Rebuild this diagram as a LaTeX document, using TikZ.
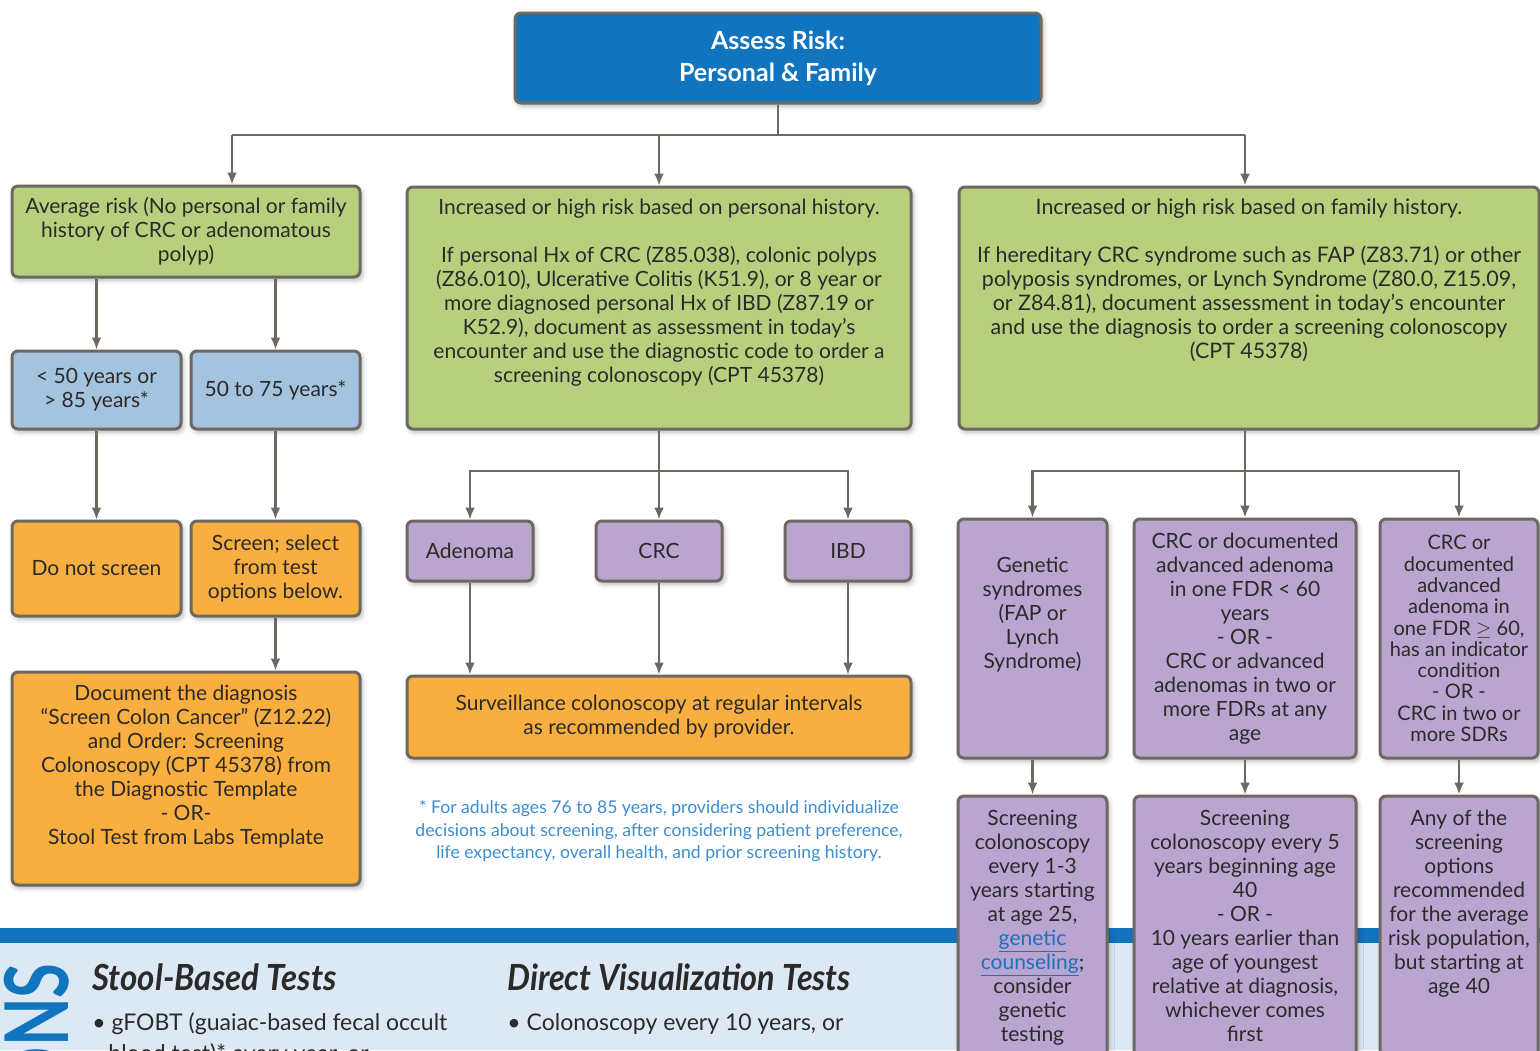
\documentclass[tikz,border=0pt]{standalone}
\usepackage{fontspec}
\setmainfont{Lato}
\usepackage{tikz}
\usetikzlibrary{arrows.meta,positioning,shadows.blur}

\definecolor{riskblue}{HTML}{1174BE}
\definecolor{riskgreen}{HTML}{B8D07E}
\definecolor{ageblue}{HTML}{A3C3DF}
\definecolor{actorange}{HTML}{F9AE40}
\definecolor{histpurple}{HTML}{B9A5CF}
\definecolor{linegray}{HTML}{6E6862}
\definecolor{txtgray}{HTML}{2B2A29}
\definecolor{noteblue}{HTML}{3D8DCF}
\definecolor{bandlight}{HTML}{DCE8F4}
\definecolor{linkblue}{HTML}{1F6FBF}

\newcommand{\flowfont}{\fontsize{10.5}{12}\selectfont}

\tikzset{
  box/.style={draw=linegray, line width=1.5pt, rounded corners=3pt, inner sep=0pt,
    align=center, text=txtgray, font=\flowfont,
    blur shadow={shadow xshift=1pt, shadow yshift=-1.5pt, shadow blur radius=2.5pt, shadow opacity=30}},
  greenbox/.style={box, fill=riskgreen},
  agebox/.style={box, fill=ageblue, minimum width=84.5pt, minimum height=39pt},
  actbox/.style={box, fill=actorange},
  histbox/.style={box, fill=histpurple},
  txt/.style={inner sep=0pt, align=center, text=txtgray, font=\flowfont},
  conn/.style={draw=linegray, line width=1.2pt},
  arr/.style={conn, -{Latex[length=6pt,width=5pt]}},
  bandtxt/.style={anchor=base west, inner sep=0pt, text=txtgray, font=\fontsize{11.5}{14}\selectfont},
  bandhead/.style={anchor=base west, inner sep=0pt, text=txtgray, font=\fontsize{18}{20}\selectfont\bfseries\itshape},
}

\begin{document}
\begin{tikzpicture}[x=0.5pt,y=-0.5pt]
\useasboundingbox (0,0) rectangle (1540,1050);
\clip (0,0) rectangle (1540,1050);

% options band at the bottom
\fill[bandlight] (0,942) rectangle (1540,1050);
\fill[riskblue] (0,928) rectangle (1540,943);
\node[rotate=90, anchor=base east, inner sep=0pt, text=riskblue,
  font=\fontsize{44}{44}\selectfont\bfseries] (optlabel) at (68,963) {\scalebox{0.72}[1]{OPTIONS}};
\node[bandhead] (stoolhead) at (92,990) {\scalebox{0.92}[1]{Stool-Based Tests}};
\node[bandhead] (visualhead) at (507,990) {\scalebox{0.9}[1]{Direct Visualization Tests}};
\node[bandtxt] (stoolopt) at (92,1030) {• gFOBT (guaiac-based fecal occult};
\node[bandtxt] (stoolopt2) at (108,1061) {blood test)* every year, or};
\node[bandtxt] (visualopt) at (507,1030) {• Colonoscopy every 10 years, or};

% risk assessment
\node[box, fill=riskblue, text=white, font=\fontsize{12.5}{16}\selectfont\bfseries,
  minimum width=263pt, minimum height=45pt] (assess) at (778,58) {Assess Risk:\\Personal \& Family};

\node[greenbox, minimum width=174pt, minimum height=45.5pt] (avg) at (186,231.5)
  {Average risk (No personal or family\\history of CRC or adenomatous\\polyp)};
\node[greenbox, minimum width=252pt, minimum height=121pt] (personal) at (659,308) {};
\node[txt, below=6.5pt of personal.north] (personaltxt)
  {Increased or high risk based on personal history.\\[12pt]
   If personal Hx of CRC (Z85.038), colonic polyps\\
   (Z86.010), Ulcerative Colitis (K51.9), or 8 year or\\
   more diagnosed personal Hx of IBD (Z87.19 or\\
   K52.9), document as assessment in today’s\\
   encounter and use the diagnostic code to order a\\
   screening colonoscopy (CPT 45378)};
\node[greenbox, minimum width=290pt, minimum height=121pt] (family) at (1249,308) {};
\node[txt, below=6.5pt of family.north, font=\fontsize{10.7}{12}\selectfont] (familytxt)
  {Increased or high risk based on family history.\\[12pt]
   If hereditary CRC syndrome such as FAP (Z83.71) or other\\
   polyposis syndromes, or Lynch Syndrome (Z80.0, Z15.09,\\
   or Z84.81), document assessment in today’s encounter\\
   and use the diagnosis to order a screening colonoscopy\\
   (CPT 45378)};

\coordinate (busL) at (232,135);
\coordinate (busR) at (1245,135);
\draw[conn] (assess.south) -- (assess.south |- busL);
\draw[conn] (busL) -- (busR);
\draw[arr] (busL) -- (busL |- avg.north);
\draw[arr] (busL -| personal.north) -- (personal.north);
\draw[arr] (busR) -- (busR |- family.north);

% average risk
\node[agebox] (young) at (96.5,390) {< 50 years or\\> 85 years*};
\node[agebox] (midage) at (275.5,390) {50 to 75 years*};
\node[actbox, minimum width=84.5pt, minimum height=47.5pt] (noscreen) at (96.5,568.5) {Do not screen};
\node[actbox, minimum width=84.5pt, minimum height=47.5pt] (select) at (275.5,568.5)
  {Screen; select\\from test\\options below.};
\node[actbox, minimum width=174pt, minimum height=106.5pt] (document) at (186,778.5) {};
\node[txt, below=7pt of document.north] (documenttxt)
  {Document the diagnosis\\“Screen Colon Cancer” (Z12.22)\\and Order: Screening\\
   Colonoscopy (CPT 45378) from\\the Diagnostic Template\\- OR-\\Stool Test from Labs Template};

\draw[arr] (avg.south -| young.north) -- (young.north);
\draw[arr] (avg.south -| midage.north) -- (midage.north);
\draw[arr] (young) -- (noscreen);
\draw[arr] (midage) -- (select);
\draw[arr] (select.south) -- (select.south |- document.north);

% personal history
\node[histbox, minimum width=63pt, minimum height=30pt] (adenoma) at (470,551) {Adenoma};
\node[histbox, minimum width=63pt, minimum height=30pt] (crc) at (659,551) {CRC};
\node[histbox, minimum width=63pt, minimum height=30pt] (ibd) at (848,551) {IBD};
\node[actbox, minimum width=252pt, minimum height=41pt] (surv) at (659,717)
  {Surveillance colonoscopy at regular intervals\\as recommended by provider.};

\coordinate (midbus) at (659,471);
\draw[arr] (personal) -- (crc);
\draw[arr] (midbus) -| (adenoma);
\draw[arr] (midbus) -| (ibd);
\draw[arr] (adenoma) -- (adenoma |- surv.north);
\draw[arr] (crc) -- (surv);
\draw[arr] (ibd) -- (ibd |- surv.north);

\node[inner sep=0pt, align=center, text=noteblue, font=\fontsize{8.8}{11.25}\selectfont] (note) at (659,831)
  {* For adults ages 76 to 85 years, providers should individualize\\
   decisions about screening, after considering patient preference,\\
   life expectancy, overall health, and prior screening history.};

% family history
\node[histbox, minimum width=74.5pt, minimum height=119.5pt] (genetic) at (1032.5,638.5) {};
\node[txt, below=19.5pt of genetic.north] (genetictxt)
  {Genetic\\syndromes\\(FAP or\\Lynch\\Syndrome)};
\node[histbox, minimum width=111pt, minimum height=119.5pt] (fdr) at (1245,638.5)
  {CRC or documented\\advanced adenoma\\in one FDR < 60\\years\\- OR -\\CRC or advanced\\
   adenomas in two or\\more FDRs at any\\age};
\node[histbox, minimum width=79pt, minimum height=119.5pt, font=\fontsize{10}{10.65}\selectfont] (sdr) at (1459,638.5)
  {CRC or\\documented\\advanced\\adenoma in\\one FDR \ensuremath{\geq} 60,\\has an indicator\\condition\\- OR -\\
   CRC in two or\\more SDRs};

\coordinate (rightbus) at (1245,471);
\draw[arr] (family.south -| fdr.north) -- (fdr.north);
\draw[arr] (rightbus) -| (genetic);
\draw[arr] (rightbus) -| (sdr);

\node[histbox, minimum width=74.5pt, minimum height=142pt] (gscreen) at (1032.5,938) {};
\node[txt, below=7.5pt of gscreen.north] (gscreentxt)
  {Screening\\colonoscopy\\every 1-3\\years starting\\at age 25,\\
   {\color{linkblue}\underline{genetic}}\\{\color{linkblue}\underline{counseling}};\\consider\\genetic\\testing};
\node[histbox, minimum width=111pt, minimum height=142pt] (fscreen) at (1245,938) {};
\node[txt, below=7.5pt of fscreen.north] (fscreentxt)
  {Screening\\colonoscopy every 5\\years beginning age\\40\\- OR -\\10 years earlier than\\
   age of youngest\\relative at diagnosis,\\whichever comes\\first};
\node[histbox, minimum width=79pt, minimum height=142pt] (sscreen) at (1459,938) {};
\node[txt, below=7.5pt of sscreen.north] (sscreentxt)
  {Any of the\\screening\\options\\recommended\\for the average\\risk population,\\but starting at\\age 40};

\draw[arr] (genetic) -- (gscreen);
\draw[arr] (fdr) -- (fscreen);
\draw[arr] (sdr) -- (sscreen);
\end{tikzpicture}
\end{document}
